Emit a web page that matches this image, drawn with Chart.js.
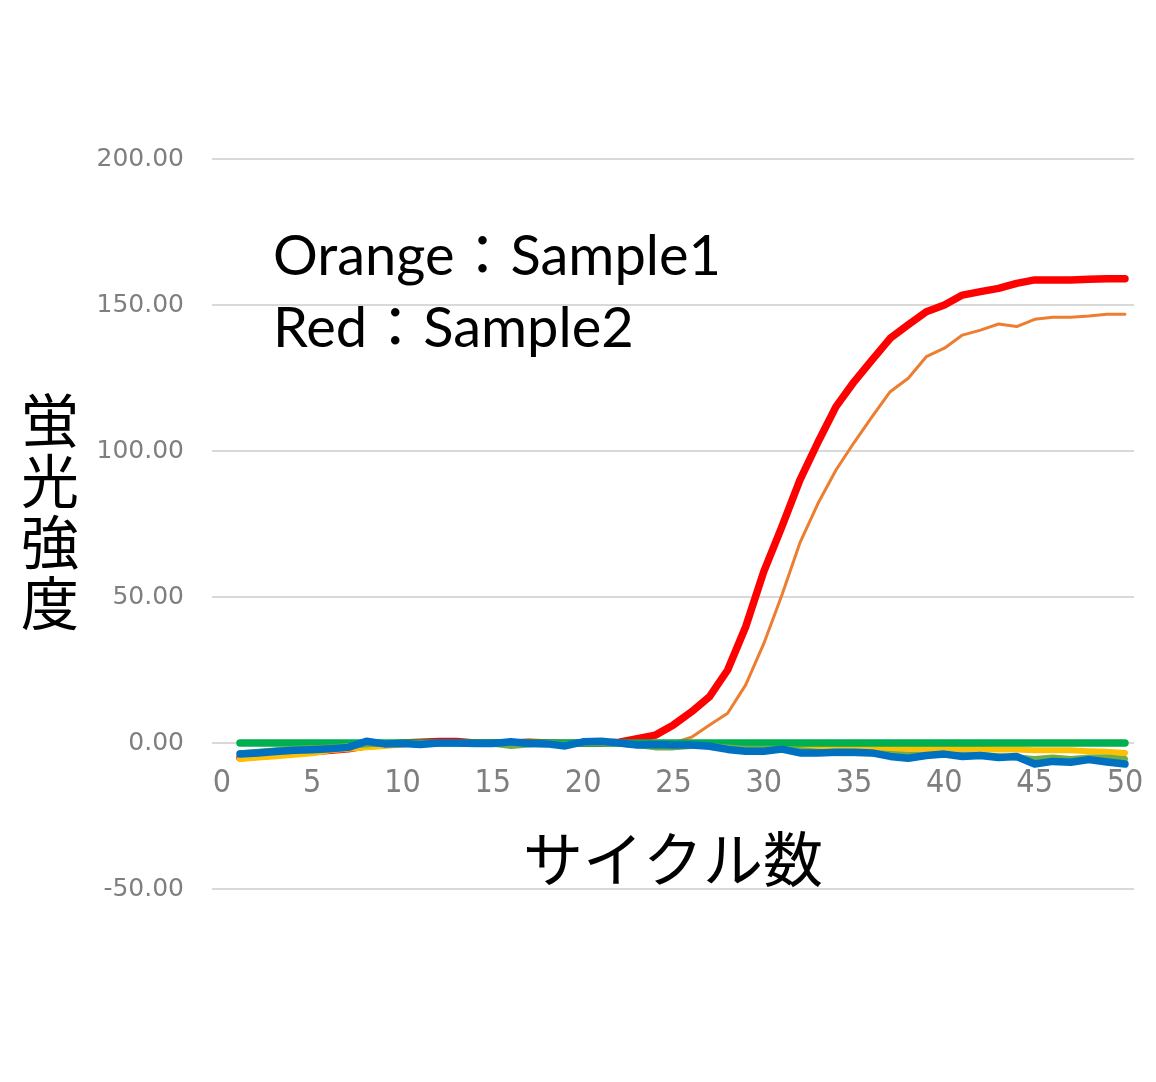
<!DOCTYPE html>
<html lang="ja">
<head>
<meta charset="utf-8">
<title>サイクル数と蛍光強度</title>
<script src="https://cdn.jsdelivr.net/npm/chart.js@4.4.1/dist/chart.umd.min.js"></script>
<style>
  html, body { margin: 0; padding: 0; background: #fff; }
  #wrap { width: 1156px; height: 1082px; }
</style>
</head>
<body>
<div id="wrap"><canvas id="pcr" width="1156" height="1082"></canvas></div>
<script>
// サイクル 1〜50
const cycles = [
  1, 2, 3, 4, 5, 6, 7, 8, 9, 10, 11, 12, 13, 14, 15, 16, 17, 18, 19, 20,
  21, 22, 23, 24, 25, 26, 27, 28, 29, 30, 31, 32, 33, 34, 35, 36, 37, 38, 39, 40,
  41, 42, 43, 44, 45, 46, 47, 48, 49, 50,
];

// Orange : Sample1
const sample1 = [
  -6, -5, -4.5, -4, -3.5, -3, -2.5, -1.5, -1, -0.5,
  0, 0, 0.3, 0, 0, 0, 0.2, 0, 0, 0,
  0, 0, 0, -0.3, 0, 2, 6.2, 10.2, 19.9, 34,
  50.6, 68.5, 82, 93.5, 102.9, 111.8, 120.3, 124.9, 132.3, 135.2,
  139.7, 141.4, 143.5, 142.6, 145.1, 145.8, 145.8, 146.2, 146.8, 146.8,
];

// Red : Sample2
const sample2 = [
  -5, -4.5, -4, -3.5, -3, -2.5, -2, -1, -0.5, 0,
  0.3, 0.5, 0.5, 0, 0, 0, 0.3, 0, -0.2, 0,
  0, 0.3, 1.5, 2.7, 6.2, 10.7, 15.9, 25, 39.8, 58.7,
  74, 90, 103, 115.2, 123.7, 131.2, 138.6, 143.2, 147.7, 150,
  153.4, 154.6, 155.7, 157.4, 158.6, 158.6, 158.6, 158.8, 159, 159,
];

// 陰性（ベースライン付近）
const yellowSeries = [
  -5.5, -5, -4.5, -4, -3.5, -2.5, -2, -1.5, -1, -0.5,
  0, 0, 0, 0, 0, 0, 0, 0, 0, 0,
  0, 0, 0, 0, -0.3, -0.5, -0.5, -0.8, -1, -1,
  -1, -1.5, -1.5, -1.5, -1.8, -2, -2, -2, -2, -2,
  -2, -2, -2.2, -2.2, -2.5, -2.5, -2.5, -2.8, -3, -3.4,
];

const greenSeries = [
  0, 0, 0, 0, 0, 0, 0, 0, 0, 0,
  0, 0, 0, 0, 0, 0, 0, 0, 0, 0,
  0, 0, 0, 0, 0, 0, 0, 0, 0, 0,
  0, 0, 0, 0, 0, 0, 0, 0, 0, 0,
  0, 0, 0, 0, 0, 0, 0, 0, 0, 0,
];

const lightGreenSeries = [
  -3.5, -3, -2.5, -2, -1.8, -1.5, -1, -0.5, 0, 0,
  0, 0, 0, 0, -0.3, -1, -0.5, 0, -0.5, 0,
  0, -0.3, -0.8, -1.5, -1.5, -1, -1, -1.5, -2, -2,
  -2, -2.5, -3, -3.5, -3.5, -3.5, -3.8, -4, -4, -4,
  -4, -4, -4.5, -5, -5.5, -5, -5.5, -5, -5, -5.5,
];

const blueSeries = [
  -3.8, -3.4, -2.9, -2.5, -2.3, -2, -1.5, 0.6, -0.3, -0.2,
  -0.5, 0, 0, -0.2, -0.2, 0.4, -0.2, -0.3, -1, 0.4,
  0.6, 0, -0.7, -0.5, -0.7, -0.7, -1.1, -2.2, -2.8, -2.8,
  -2.1, -3.4, -3.4, -3.2, -3.2, -3.4, -4.6, -5.2, -4.3, -3.8,
  -4.6, -4.3, -5, -4.6, -7.2, -6.3, -6.6, -5.7, -6.5, -7.2,
];

const xTicks = [0, 5, 10, 15, 20, 25, 30, 35, 40, 45, 50];
const yTicks = [-50, 0, 50, 100, 150, 200];
const yTitleChars = ["蛍", "光", "強", "度"];
const noteLines = ["Orange：Sample1", "Red：Sample2"];

const toPoints = (vals) => cycles.map((c, i) => ({ x: c, y: vals[i] }));

function serie(label, vals, color, width, order) {
  return {
    label: label,
    data: toPoints(vals),
    borderColor: color,
    backgroundColor: color,
    borderWidth: width,
    pointRadius: 0,
    pointHoverRadius: 0,
    tension: 0,
    borderCapStyle: "round",
    borderJoinStyle: "round",
    order: order,
  };
}

// 縦書きの軸タイトルと注記
const textPlugin = {
  id: "textPlugin",
  afterDraw(chart) {
    const c = chart.ctx;
    c.save();
    c.fillStyle = "#000";
    c.font = '58px "Noto Sans CJK JP"';
    c.textAlign = "center";
    c.textBaseline = "middle";
    yTitleChars.forEach((ch, i) => {
      c.fillText(ch, 50, 420 + i * 61);
    });
    c.font = '56px Lato, "Noto Sans CJK JP"';
    c.textAlign = "left";
    c.textBaseline = "alphabetic";
    noteLines.forEach((t, i) => {
      c.fillText(t, 273, 275 + i * 72);
    });
    c.restore();
  },
};

new Chart(document.getElementById("pcr"), {
  type: "line",
  data: {
    datasets: [
      serie("Sample1", sample1, "#ED7D31", 3, 6),
      serie("Sample2", sample2, "#FF0000", 7.5, 5),
      serie("NC1", yellowSeries, "#FFC000", 6, 4),
      serie("NC2", greenSeries, "#00B050", 7.5, 3),
      serie("NC3", lightGreenSeries, "#70AD47", 6, 2),
      serie("NC4", blueSeries, "#0070C0", 7.5, 1),
    ],
  },
  options: {
    responsive: false,
    animation: false,
    layout: {
      padding: { left: 0, top: 159, right: 22, bottom: 193 },
    },
    plugins: {
      legend: { display: false },
      tooltip: { enabled: false },
    },
    scales: {
      x: {
        type: "linear",
        position: { y: 0 },
        min: -0.55,
        max: 50.5,
        afterBuildTicks: (axis) => {
          axis.ticks = xTicks.map((v) => ({ value: v }));
        },
        afterFit: (axis) => {
          axis.paddingLeft = 0;
          axis.paddingRight = 0;
        },
        grid: { display: false, drawTicks: false },
        border: { display: false },
        ticks: {
          color: "#7f7f7f",
          padding: 21,
          maxRotation: 0,
          font: { family: '"Liberation Sans Narrow", "DejaVu Sans Condensed", sans-serif', size: 32 },
        },
        title: {
          display: true,
          text: "サイクル数",
          color: "#000",
          padding: { top: 0, bottom: 0 },
          font: { family: '"Noto Sans CJK JP"', size: 60 },
        },
      },
      y: {
        min: -50,
        max: 200,
        afterBuildTicks: (axis) => {
          axis.ticks = yTicks.map((v) => ({ value: v }));
        },
        afterFit: (axis) => {
          axis.width = 212;
        },
        grid: { color: "#d9d9d9", lineWidth: 2, drawTicks: false },
        border: { display: false },
        ticks: {
          color: "#7f7f7f",
          padding: 28,
          font: { family: '"DejaVu Sans", sans-serif', size: 25 },
          callback: (v) => v.toFixed(2),
        },
      },
    },
  },
  plugins: [textPlugin],
});
</script>
</body>
</html>
